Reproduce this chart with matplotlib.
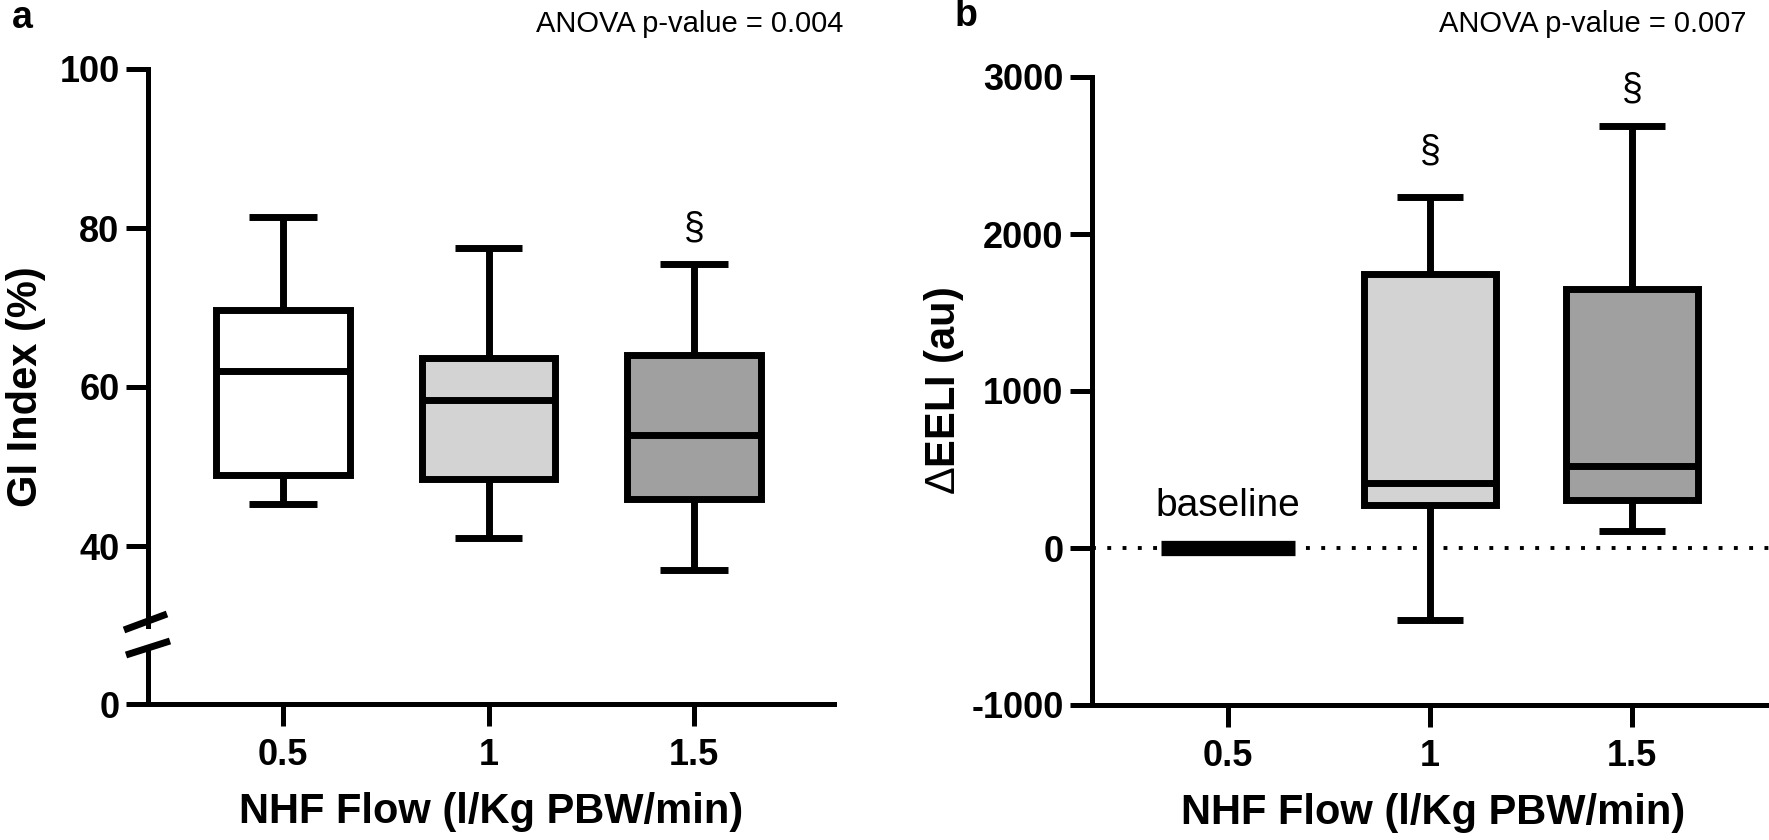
import matplotlib
matplotlib.use("Agg")
import matplotlib.pyplot as plt
from matplotlib.lines import Line2D

plt.rcParams["font.family"] = ["Liberation Sans", "DejaVu Sans"]
plt.rcParams["axes.unicode_minus"] = False
plt.rcParams["mathtext.fontset"] = "custom"
plt.rcParams["mathtext.rm"] = "Liberation Sans"

# data
flows = ["0.5", "1", "1.5"]
gi_whislo = [45.3, 41.0, 37.0]
gi_q1 = [48.9, 48.4, 45.9]
gi_med = [62.0, 58.4, 53.9]
gi_q3 = [69.7, 63.6, 64.0]
gi_whishi = [81.4, 77.5, 75.5]

eeli_flows = ["1", "1.5"]
eeli_whislo = [-460, 108]
eeli_q1 = [274, 306]
eeli_med = [415, 523]
eeli_q3 = [1748, 1652]
eeli_whishi = [2233, 2689]
baseline_value = 0

box_colors = ["white", "#d3d3d3", "#a0a0a0"]

W, H = 1769, 840
fig = plt.figure(figsize=(W / 100, H / 100), dpi=100)


def px_axes(left, top, right, bottom):
    return fig.add_axes([left / W, 1 - bottom / H, (right - left) / W, (bottom - top) / H])


LW = 3.6
BOX_LW = 5
TICK_FS = 26
LABEL_FS = 30


def style(ax):
    for s in ["top", "right"]:
        ax.spines[s].set_visible(False)
    for s in ["left", "bottom"]:
        ax.spines[s].set_linewidth(LW)
    ax.tick_params(length=15.5, width=LW, labelsize=TICK_FS)
    ax.tick_params(axis="y", pad=5)
    ax.tick_params(axis="x", pad=9)
    for t in ax.get_xticklabels() + ax.get_yticklabels():
        t.set_fontweight("bold")


def draw_boxes(ax, pos, lo, q1, med, q3, hi, colors):
    stats = []
    for i in range(len(pos)):
        stats.append(dict(whislo=lo[i], q1=q1[i], med=med[i], q3=q3[i], whishi=hi[i], fliers=[]))
    bp = ax.bxp(stats, positions=pos, widths=0.65, capwidths=0.33, patch_artist=True,
                showfliers=False,
                boxprops=dict(linewidth=BOX_LW, edgecolor="black"),
                whiskerprops=dict(linewidth=BOX_LW, color="black", solid_capstyle="butt"),
                capprops=dict(linewidth=BOX_LW, color="black", solid_capstyle="butt"),
                medianprops=dict(linewidth=BOX_LW, color="black", solid_capstyle="butt"),
                manage_ticks=False)
    for patch, c in zip(bp["boxes"], colors):
        patch.set_facecolor(c)
        patch.set_joinstyle("miter")


# ---- panel a (broken y axis) ----
pos_a = [1, 2, 3]
ax_top = px_axes(148, 69, 834, 625.5)
ax_bot = px_axes(148, 649, 834, 704)

draw_boxes(ax_top, pos_a, gi_whislo, gi_q1, gi_med, gi_q3, gi_whishi, box_colors)
ax_top.set_ylim(30, 100)
ax_top.set_xlim(0.343, 3.681)
ax_top.set_yticks([40, 60, 80, 100])
ax_top.set_xticks([])
style(ax_top)
ax_top.spines["bottom"].set_visible(False)
ax_top.text(3, 80, "§", ha="center", va="center", fontsize=27)

ax_bot.set_ylim(0, 6.92)
ax_bot.set_xlim(0.343, 3.681)
ax_bot.set_yticks([0])
ax_bot.set_xticks(pos_a)
ax_bot.set_xticklabels(flows)
style(ax_bot)
ax_bot.set_xlabel("NHF Flow (l/Kg PBW/min)", fontsize=LABEL_FS, fontweight="bold", labelpad=14)

fig.text(26 / W, 1 - 387 / H, "GI Index (%)", rotation=90, ha="center", va="center",
         fontsize=LABEL_FS, fontweight="bold")

# break marks
for (x0, y0, x1, y1) in [(124, 630, 167, 614), (126, 655, 170, 641)]:
    fig.add_artist(Line2D([x0 / W, x1 / W], [1 - y0 / H, 1 - y1 / H], transform=fig.transFigure,
                          color="black", linewidth=5, solid_capstyle="butt"))

# ---- panel b ----
ax_b = px_axes(1092, 77, 1775, 705)
ax_b.axhline(baseline_value, color="black", linewidth=2.8, linestyle=(0, (1, 2.93)), zorder=0)
ax_b.hlines(baseline_value, 1 - 0.33, 1 + 0.33, color="black", linewidth=11, zorder=3)
ax_b.text(1, 150, "baseline", ha="center", va="bottom", fontsize=28)
draw_boxes(ax_b, [2, 3], eeli_whislo, eeli_q1, eeli_med, eeli_q3, eeli_whishi, box_colors[1:])
ax_b.set_ylim(-1000, 3000)
ax_b.set_xlim(0.327, 3.708)
ax_b.set_yticks([-1000, 0, 1000, 2000, 3000])
ax_b.set_xticks(pos_a)
ax_b.set_xticklabels(flows)
style(ax_b)
ax_b.set_xlabel("NHF Flow (l/Kg PBW/min)", fontsize=LABEL_FS, fontweight="bold", labelpad=14)
ax_b.set_ylabel(r"$\mathrm{\Delta}$EELI (au)", fontsize=LABEL_FS, fontweight="bold", labelpad=4)
ax_b.text(2, 2527, "§", ha="center", va="center", fontsize=27)
ax_b.text(3, 2921, "§", ha="center", va="center", fontsize=27)

# panel letters and ANOVA notes
fig.text(22 / W, 1 - 18 / H, "a", ha="center", va="center", fontsize=27, fontweight="bold")
fig.text(966 / W, 1 - 16 / H, "b", ha="center", va="center", fontsize=27, fontweight="bold")
fig.text(843 / W, 1 - 24 / H, "ANOVA p-value = 0.004", ha="right", va="center", fontsize=21)
fig.text(1746 / W, 1 - 24 / H, "ANOVA p-value = 0.007", ha="right", va="center", fontsize=21)

fig.savefig("out.png", dpi=100)
